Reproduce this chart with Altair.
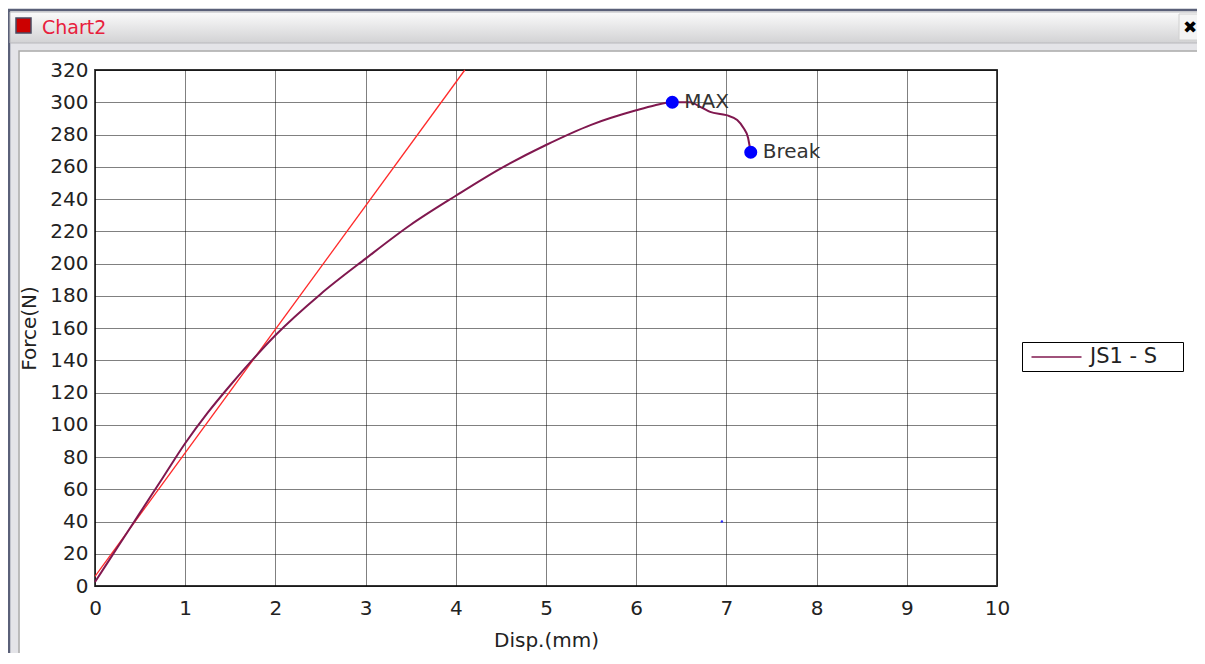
import altair as alt
import pandas as pd

# Main load-displacement curve (JS1 - S)
disp = [0, 0.25, 0.5, 0.75, 1.0, 1.25, 1.5, 1.75, 2.0, 2.5, 3.0, 3.5, 4.0, 4.5,
        5.0, 5.5, 6.0, 6.2, 6.4, 6.6, 6.7, 6.82, 7.0, 7.12, 7.19, 7.24, 7.26, 7.27]
force = [2.5, 24, 45.5, 67, 88.5, 107.5, 124.5, 140.5, 155.5, 181, 203, 224, 242, 259,
         273.5, 286, 295, 298, 300, 300, 297.5, 294, 292, 289, 284, 278, 272, 269]

# Red tangent (modulus) line
tan_disp = [0, 4.1]
tan_force = [6, 320]

# Marked points
pt_labels = ["MAX", "Break"]
pt_disp = [6.4, 7.27]
pt_force = [300, 269]

# Stray small blue dot
dot_disp = [6.95]
dot_force = [40]

# Axis ticks
x_ticks = list(range(0, 11))
y_ticks = list(range(0, 321, 20))

series_name = "JS1 - S"
FONT = "DejaVu Sans"

curve_df = pd.DataFrame({"disp": disp, "force": force, "order": range(len(disp)),
                         "series": series_name})
tan_df = pd.DataFrame({"disp": tan_disp, "force": tan_force})
pt_df = pd.DataFrame({"disp": pt_disp, "force": pt_force, "label": pt_labels})
dot_df = pd.DataFrame({"disp": dot_disp, "force": dot_force})
one = pd.DataFrame({"k": [0]})

W, H = 902, 516

x_scale = alt.Scale(domain=[0, 10], nice=False)
y_scale = alt.Scale(domain=[0, 320], nice=False)

x_axis = alt.Axis(values=x_ticks, tickCount=len(x_ticks), format="d", title="Disp.(mm)",
                  grid=True, ticks=False, domain=False, labelPadding=12, titlePadding=12,
                  labelOverlap=False, labelFlush=False)
y_axis = alt.Axis(values=y_ticks, tickCount=len(y_ticks), format="d", title="Force(N)",
                  grid=True, ticks=False, domain=False, labelPadding=7, titlePadding=10,
                  labelOverlap=False, labelFlush=False)

# ---- window chrome (decoration, outside the plot area) ----
band = alt.Chart(one).mark_rect(fill=None, stroke="#e4e4e8", strokeWidth=9).encode(
    x=alt.value(-81), x2=alt.value(1108), y=alt.value(-24), y2=alt.value(592))
frame = alt.Chart(one).mark_rect(fill=None, stroke="#5a6078", strokeWidth=2.5).encode(
    x=alt.value(-86), x2=alt.value(1113), y=alt.value(-60), y2=alt.value(600))
content = alt.Chart(one).mark_rect(fill=None, stroke="#a8a8a8", strokeWidth=1.5).encode(
    x=alt.value(-76), x2=alt.value(1104), y=alt.value(-19), y2=alt.value(587))
titlebar = alt.Chart(one).mark_rect(
    fill=alt.LinearGradient(gradient="linear", x1=0, x2=0, y1=0, y2=1,
                            stops=[alt.GradientStop(color="#fbfbfb", offset=0),
                                   alt.GradientStop(color="#d2d2d4", offset=1)]),
    stroke="#b8b8bc", strokeWidth=1).encode(
    x=alt.value(-85), x2=alt.value(1112), y=alt.value(-58), y2=alt.value(-27))
closebox = alt.Chart(one).mark_rect(fill="#f4f4f4", stroke="#d0d0d0", strokeWidth=1).encode(
    x=alt.value(1084), x2=alt.value(1106), y=alt.value(-56), y2=alt.value(-30))
icon = alt.Chart(one).mark_rect(fill="#cc0000", stroke="#4a4a60", strokeWidth=1.5).encode(
    x=alt.value(-79), x2=alt.value(-64), y=alt.value(-52), y2=alt.value(-37))
title_txt = alt.Chart(one).mark_text(text="Chart2", color="#e8203c", fontSize=19, font=FONT,
                                     align="left", baseline="middle").encode(
    x=alt.value(-53), y=alt.value(-42))
close_txt = alt.Chart(one).mark_text(text="✖", color="black", fontSize=17,
                                     font=FONT, align="center", baseline="middle").encode(
    x=alt.value(1095), y=alt.value(-42))

# ---- data layers ----
tangent = alt.Chart(tan_df).mark_line(color="#ff2a2a", strokeWidth=1.3).encode(
    x=alt.X("disp:Q", scale=x_scale, axis=x_axis),
    y=alt.Y("force:Q", scale=y_scale, axis=y_axis))

curve = alt.Chart(curve_df).mark_line(strokeWidth=2, interpolate="monotone").encode(
    x=alt.X("disp:Q", scale=x_scale, axis=x_axis),
    y=alt.Y("force:Q", scale=y_scale, axis=y_axis),
    order="order:Q",
    color=alt.Color("series:N", scale=alt.Scale(domain=[series_name], range=["#80184f"]),
                    legend=alt.Legend(title=None, orient="none", legendX=927, legendY=272,
                                      strokeColor="black", fillColor="white", padding=4,
                                      symbolType="M-0.55,0H4.45", symbolSize=400,
                                      symbolStrokeWidth=1.5, labelFontSize=21, labelFont=FONT,
                                      labelColor="#222", labelOffset=42,
                                      labelExpr="datum.label + '\u2003\u200b'")))

points = alt.Chart(pt_df).mark_point(filled=True, color="#0000ff", size=170, opacity=1).encode(
    x="disp:Q", y="force:Q")
point_labels = alt.Chart(pt_df).mark_text(align="left", baseline="middle", dx=12, fontSize=20,
                                          font=FONT, color="#333333").encode(
    x="disp:Q", y="force:Q", text="label:N")
dot = alt.Chart(dot_df).mark_point(filled=True, color="#3030ff", size=6, opacity=1).encode(
    x="disp:Q", y="force:Q")

chart = alt.layer(band, frame, content, titlebar, closebox, icon, title_txt, close_txt,
                  tangent, curve, points, point_labels, dot).properties(
    width=W, height=H,
    autosize=alt.AutoSizeParams(type="none"),
    padding={"left": 87, "top": 62, "right": 200, "bottom": 67},
    background="white",
).configure_view(
    stroke="#333", strokeWidth=1.8, fill="white"
).configure_axis(
    gridColor="black", gridDash=[1, 1], gridOpacity=1, gridWidth=1,
    labelFont=FONT, labelFontSize=20, labelColor="#222",
    titleFont=FONT, titleFontSize=20, titleColor="#222", titleFontWeight="normal"
)

chart.save("out.html", embed_options={"renderer": "svg", "actions": False})
